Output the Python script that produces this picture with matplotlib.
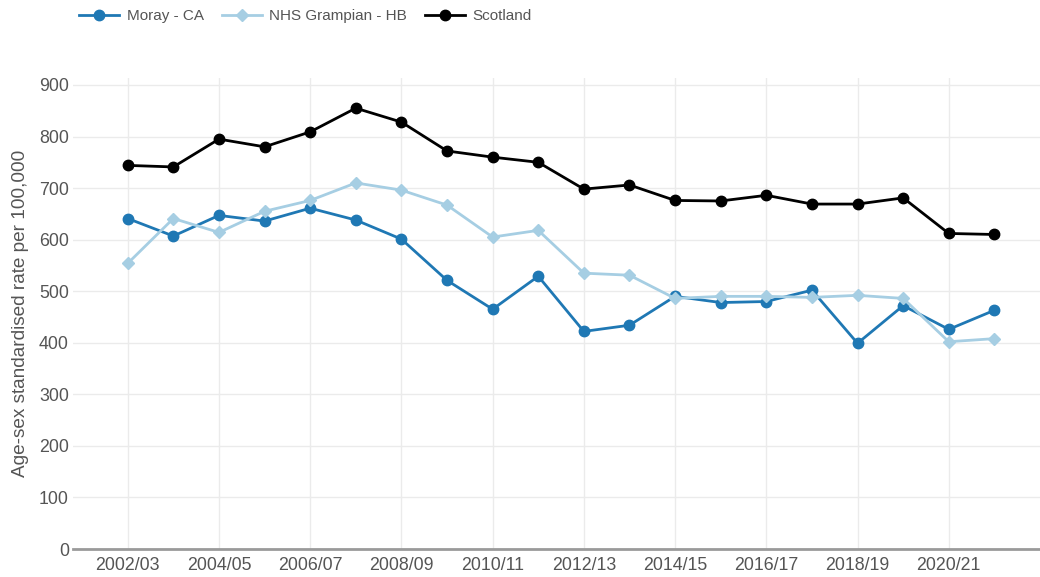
import matplotlib
matplotlib.use("Agg")
import matplotlib.pyplot as plt

plt.rcParams['font.family'] = ['Liberation Sans', 'DejaVu Sans']

years = ["2002/03", "2003/04", "2004/05", "2005/06", "2006/07", "2007/08",
         "2008/09", "2009/10", "2010/11", "2011/12", "2012/13", "2013/14",
         "2014/15", "2015/16", "2016/17", "2017/18", "2018/19", "2019/20",
         "2020/21", "2021/22"]
moray = [641, 607, 647, 636, 661, 638, 601, 521, 465, 529, 422, 434,
         490, 478, 480, 502, 399, 472, 426, 463]
grampian = [554, 641, 614, 655, 676, 710, 696, 667, 605, 618, 535, 531,
            486, 490, 490, 488, 492, 486, 402, 408]
scotland = [744, 741, 795, 780, 809, 855, 828, 772, 760, 750, 698, 706,
            676, 675, 686, 669, 669, 681, 612, 610]
y_ticks = [0, 100, 200, 300, 400, 500, 600, 700, 800, 900]

text_col = "#555555"
fig = plt.figure(figsize=(10.40, 5.77), dpi=100)
ax = fig.add_axes([73/1040, 1 - 549/577, (1040-73)/1040, (549-78)/577])

x = list(range(len(years)))
ax.plot(x, moray, color="#1f78b4", lw=2.0, marker="o", ms=7.5, label="Moray - CA", zorder=3)
ax.plot(x, grampian, color="#a6cee3", lw=2.0, marker="D", ms=6.5, label="NHS Grampian - HB", zorder=3)
ax.plot(x, scotland, color="#000000", lw=2.0, marker="o", ms=7.5, label="Scotland", zorder=4)

ax.set_xlim(-1.2, 20.0)
ax.set_ylim(0, 913.5)
ax.set_yticks(y_ticks)
ax.set_xticks(x[::2])
ax.set_xticklabels(years[::2])
ax.grid(True, color="#ebebeb", lw=1.0, zorder=0)
ax.set_axisbelow(True)
for s in ["top", "right", "left"]:
    ax.spines[s].set_visible(False)
ax.spines["bottom"].set_color("#9a9a9a")
ax.spines["bottom"].set_linewidth(2.0)
ax.tick_params(axis="both", length=0, labelsize=12.8, colors=text_col)
ax.tick_params(axis="y", pad=3)
ax.tick_params(axis="x", pad=6)
ax.set_ylabel("Age-sex standardised rate per 100,000", fontsize=13.7, color=text_col, labelpad=7)

leg = fig.legend(loc="upper left", bbox_to_anchor=(70/1040, 1.0), ncol=3, frameon=False,
                 fontsize=11, handlelength=2.6, columnspacing=1.2, handletextpad=0.5,
                 borderaxespad=0.2)
for t in leg.get_texts():
    t.set_color(text_col)

fig.savefig("out.png", dpi=100)
